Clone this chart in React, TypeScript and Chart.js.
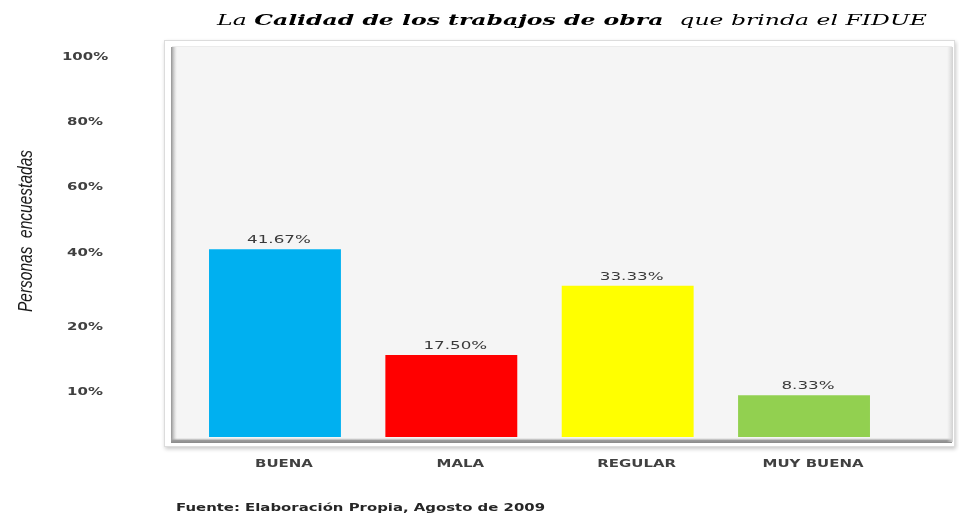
import React, { useEffect, useRef } from "react";
import { Chart, registerables } from "chart.js";

Chart.register(...registerables);

const TITLE_START = "La ";
const TITLE_BOLD = "Calidad de los trabajos de obra";
const TITLE_END = " que brinda el FIDUE";
const Y_AXIS_TITLE = "Personas  encuestadas";
const SOURCE_NOTE = "Fuente: Elaboración Propia, Agosto de 2009";

const CATEGORIES = ["BUENA", "MALA", "REGULAR", "MUY BUENA"];
const VALUES = [41.67, 17.5, 33.33, 8.33];
const VALUE_LABELS = ["41.67%", "17.50%", "33.33%", "8.33%"];
const BAR_COLORS = ["#00b0f0", "#ff0000", "#ffff00", "#92d050"];

// the source chart's axis labels are not evenly valued; they sit at these data positions
const Y_TICK_VALUES = [9.0, 23.9, 40.8, 55.9, 70.7, 85.6];
const Y_TICK_LABELS = ["10%", "20%", "40%", "60%", "80%", "100%"];
const Y_MIN = -1.23;
const Y_MAX = 87.87;

const W = 959;
const H = 514;
const TEXT_STRETCH = 1.36;

const framePlugin = {
  id: "frameAndTexts",
  beforeDraw(chart: any) {
    const ctx: any = chart.ctx;
    ctx.save();
    ctx.shadowColor = "rgba(0,0,0,0.22)";
    ctx.shadowBlur = 4;
    ctx.shadowOffsetX = 1;
    ctx.shadowOffsetY = 2;
    ctx.fillStyle = "#ffffff";
    ctx.fillRect(164, 40, 791, 407);
    ctx.restore();

    ctx.save();
    ctx.strokeStyle = "#dcdcdc";
    ctx.lineWidth = 1;
    ctx.strokeRect(164.5, 40.5, 790, 406);
    ctx.fillStyle = "#f5f5f5";
    ctx.fillRect(172, 47, 780, 395);
    let g = ctx.createLinearGradient(171, 0, 177, 0);
    g.addColorStop(0, "#8f8f8f");
    g.addColorStop(1, "rgba(200,200,200,0)");
    ctx.fillStyle = g;
    ctx.fillRect(171, 47, 6, 395);
    g = ctx.createLinearGradient(0, 438, 0, 443);
    g.addColorStop(0, "rgba(180,180,180,0)");
    g.addColorStop(0.5, "#9a9a9a");
    g.addColorStop(1, "#8a8a8a");
    ctx.fillStyle = g;
    ctx.fillRect(171, 438, 781, 5);
    g = ctx.createLinearGradient(947, 0, 953, 0);
    g.addColorStop(0, "rgba(220,220,220,0)");
    g.addColorStop(1, "#d0d0d0");
    ctx.fillStyle = g;
    ctx.fillRect(947, 47, 6, 395);
    ctx.fillStyle = "#ebebeb";
    ctx.fillRect(172, 46, 780, 1);
    ctx.restore();

    // stretch the axis label text horizontally around its anchor, like the source image
    if (!ctx.__origFillText) ctx.__origFillText = ctx.fillText;
    const orig = ctx.__origFillText;
    ctx.fillText = function (t: string, x: number, y: number) {
      this.save();
      this.translate(x, y);
      this.scale(TEXT_STRETCH, 1);
      orig.call(this, t, 0, 0);
      this.restore();
    };
  },
  afterDraw(chart: any) {
    const ctx: any = chart.ctx;
    if (ctx.__origFillText) ctx.fillText = ctx.__origFillText;

    // value labels above bars
    const meta = chart.getDatasetMeta(0);
    meta.data.forEach((bar: any, i: number) => {
      ctx.save();
      ctx.font = '11px "DejaVu Sans"';
      ctx.fillStyle = "#3a3a3a";
      ctx.textAlign = "center";
      ctx.textBaseline = "alphabetic";
      ctx.translate(bar.x + 4, bar.y - 6);
      ctx.scale(1.52, 1);
      ctx.fillText(VALUE_LABELS[i], 0, 0);
      ctx.restore();
    });

    // title
    ctx.save();
    const fItal = 'italic 14px "DejaVu Serif"';
    const fBold = 'italic bold 14px "DejaVu Serif"';
    ctx.font = fItal;
    const w1 = ctx.measureText(TITLE_START).width;
    const w3 = ctx.measureText(TITLE_END).width;
    ctx.font = fBold;
    const w2 = ctx.measureText(TITLE_BOLD).width;
    const gap = 5;
    const sx = 710 / (w1 + w2 + w3 + gap);
    ctx.translate(217, 25);
    ctx.scale(sx, 1);
    ctx.fillStyle = "#000000";
    ctx.textBaseline = "alphabetic";
    ctx.textAlign = "left";
    ctx.font = fItal;
    ctx.fillText(TITLE_START, 0, 0);
    ctx.font = fBold;
    ctx.fillText(TITLE_BOLD, w1, 0);
    ctx.font = fItal;
    ctx.fillText(TITLE_END, w1 + w2 + gap, 0);
    ctx.restore();

    // y axis title
    ctx.save();
    ctx.font = 'italic 20px "Liberation Sans Narrow", "Liberation Sans", sans-serif';
    const wy = ctx.measureText(Y_AXIS_TITLE).width;
    ctx.translate(26, 231);
    ctx.rotate(-Math.PI / 2);
    ctx.scale(162 / wy, 1);
    ctx.fillStyle = "#1a1a1a";
    ctx.textAlign = "center";
    ctx.textBaseline = "middle";
    ctx.fillText(Y_AXIS_TITLE, 0, 0);
    ctx.restore();

    // source note
    ctx.save();
    ctx.font = 'bold 11px "DejaVu Sans"';
    const ws = ctx.measureText(SOURCE_NOTE).width;
    ctx.translate(176, 510.5);
    ctx.scale(369 / ws, 1);
    ctx.fillStyle = "#262626";
    ctx.textAlign = "left";
    ctx.textBaseline = "alphabetic";
    ctx.fillText(SOURCE_NOTE, 0, 0);
    ctx.restore();
  },
};

export default function App() {
  const ref = useRef<HTMLCanvasElement | null>(null);

  useEffect(() => {
    const canvas = ref.current;
    if (!canvas) return;
    const tickFont = { family: '"DejaVu Sans"', size: 11, weight: "bold" as const };
    const chart = new Chart(canvas, {
      type: "bar",
      data: {
        labels: CATEGORIES,
        datasets: [
          {
            data: VALUES,
            backgroundColor: BAR_COLORS,
            borderWidth: 0,
            barPercentage: 0.748,
            categoryPercentage: 1,
            base: Y_MIN,
          } as any,
        ],
      },
      options: {
        responsive: false,
        animation: false,
        devicePixelRatio: 1,
        layout: { padding: { left: 0, top: 47, right: 66.8, bottom: 37 } },
        plugins: {
          legend: { display: false },
          tooltip: { enabled: false },
          title: { display: false },
        },
        scales: {
          x: {
            grid: { display: false, drawTicks: false, tickLength: 0 },
            border: { display: false },
            ticks: {
              font: tickFont,
              color: "#404040",
              padding: 21,
              labelOffset: 9,
              maxRotation: 0,
              autoSkip: false,
            },
            afterFit: (s: any) => {
              s.height = 40;
              s.paddingLeft = 0;
              s.paddingRight = 0;
            },
          },
          y: {
            min: Y_MIN,
            max: Y_MAX,
            grid: { display: false, drawTicks: false, tickLength: 0 },
            border: { display: false },
            afterBuildTicks: (s: any) => {
              s.ticks = Y_TICK_VALUES.map((v) => ({ value: v }));
            },
            ticks: {
              callback: (_v: any, i: number) => Y_TICK_LABELS[i],
              font: tickFont,
              color: "#404040",
              crossAlign: "center",
              padding: 84.8,
            },
            afterFit: (s: any) => {
              s.width = 186.8;
              s.paddingTop = 0;
              s.paddingBottom = 0;
            },
          },
        },
      } as any,
      plugins: [framePlugin as any],
    });
    return () => chart.destroy();
  }, []);

  return (
    <div style={{ position: "absolute", left: 0, top: 0, width: W, height: H }}>
      <canvas ref={ref} width={W} height={H} style={{ width: W, height: H, display: "block" }} />
    </div>
  );
}
